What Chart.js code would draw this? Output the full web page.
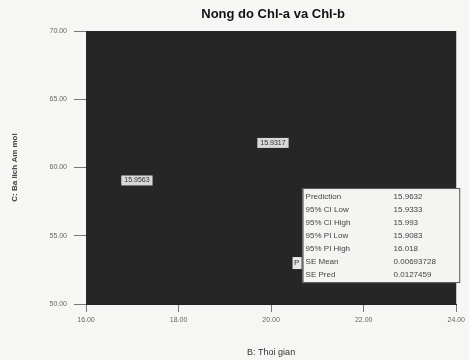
<!DOCTYPE html>
<html>
<head>
<meta charset="utf-8">
<script src="https://cdn.jsdelivr.net/npm/chart.js@4.4.0/dist/chart.umd.min.js"></script>
<style>
  html, body { margin: 0; padding: 0; background: #f6f6f4; }
  #wrap { width: 469px; height: 360px; }
</style>
</head>
<body>
<div id="wrap"><canvas id="contour"></canvas></div>
<script>
// contour labels
const labelX = [17.1, 20.04];
const labelY = [59.05, 61.8];
const labelText = ["15.9563", "15.9317"];

// flagged point + its prediction box
const flagX = [20.55];
const flagY = [53.0];
const infoLabels = ["Prediction", "95% CI Low", "95% CI High", "95% PI Low", "95% PI High", "SE Mean", "SE Pred"];
const infoValues = ["15.9632", "15.9333", "15.993", "15.9083", "16.018", "0.00693728", "0.0127459"];

const xTicks = [16, 18, 20, 22, 24];
const yTicks = [50, 55, 60, 65, 70];
const chartTitle = "Nong do Chl-a va Chl-b";

// dark background of the plot area + title centred over it
const plotBg = {
  id: "plotBg",
  beforeDatasetsDraw(chart) {
    const { ctx, chartArea: a } = chart;
    ctx.save();
    ctx.fillStyle = "#262626";
    ctx.fillRect(a.left, a.top, a.right - a.left, a.bottom - a.top);
    ctx.fillStyle = "#111";
    ctx.font = "bold 13px 'Liberation Sans', Arial, sans-serif";
    ctx.textAlign = "center";
    ctx.textBaseline = "middle";
    ctx.fillText(chartTitle, (a.left + a.right) / 2 + 2, 14);
    ctx.restore();
  },
};

// small boxed labels and the flag info box
const annotations = {
  id: "annotations",
  afterDatasetsDraw(chart) {
    const ctx = chart.ctx;
    const xs = chart.scales.x, ys = chart.scales.y;
    ctx.save();
    ctx.font = "7px 'Liberation Sans', Arial, sans-serif";
    ctx.textBaseline = "middle";
    labelText.forEach((t, i) => {
      const px = xs.getPixelForValue(labelX[i]);
      const py = ys.getPixelForValue(labelY[i]);
      const w = ctx.measureText(t).width + 6;
      ctx.fillStyle = "#d8d8d8";
      ctx.fillRect(px - w / 2, py - 5, w, 10);
      ctx.fillStyle = "#333";
      ctx.textAlign = "center";
      ctx.fillText(t, px, py);
    });

    // flag
    const fx = xs.getPixelForValue(flagX[0]);
    const fy = ys.getPixelForValue(flagY[0]);
    ctx.fillStyle = "#e8e8e8";
    ctx.fillRect(fx - 4, fy - 6, 9, 12);
    ctx.fillStyle = "#333";
    ctx.textAlign = "center";
    ctx.font = "8px 'Liberation Sans', Arial, sans-serif";
    ctx.fillText("P", fx, fy);

    // info box
    const bx = fx + 6, rowH = 13;
    const bh = rowH * infoLabels.length + 4;
    const by = fy + 20 - bh;
    const bw = xs.right - bx + 4;
    ctx.fillStyle = "#f4f4f2";
    ctx.fillRect(bx, by, bw, bh);
    ctx.strokeStyle = "#555";
    ctx.lineWidth = 1;
    ctx.strokeRect(bx + 0.5, by + 0.5, bw - 1, bh - 1);
    ctx.font = "8px 'Liberation Sans', Arial, sans-serif";
    ctx.textAlign = "left";
    ctx.fillStyle = "#444";
    infoLabels.forEach((t, i) => {
      const ty = by + 2 + rowH * i + rowH / 2;
      ctx.fillText(t, bx + 3, ty);
      ctx.fillText(infoValues[i], bx + 91, ty);
    });
    ctx.restore();
  },
};

const config = {
  type: "scatter",
  data: {
    datasets: [
      {
        data: labelX.map((x, i) => ({ x: x, y: labelY[i] })),
        pointRadius: 0,
      },
      {
        data: flagX.map((x, i) => ({ x: x, y: flagY[i] })),
        pointRadius: 0,
      },
    ],
  },
  plugins: [plotBg, annotations],
  options: {
    responsive: true,
    maintainAspectRatio: false,
    animation: false,
    layout: { padding: { right: 11, bottom: 0, left: 0, top: 31 } },
    plugins: {
      legend: { display: false },
      tooltip: { enabled: false },
      title: { display: false },
    },
    scales: {
      x: {
        type: "linear",
        min: 16,
        max: 24,
        afterBuildTicks: (s) => { s.ticks = xTicks.map((v) => ({ value: v })); },
        afterFit: (s) => { s.height = 56; },
        ticks: {
          callback: (v) => Number(v).toFixed(2),
          color: "#666",
          font: { size: 7, family: "'Liberation Sans', Arial, sans-serif" },
          maxRotation: 0,
          padding: 4,
        },
        grid: { display: true, drawOnChartArea: false, drawTicks: true, tickLength: 8, color: "#777" },
        border: { display: true, color: "#222" },
        title: {
          display: true,
          text: "B: Thoi gian",
          color: "#333",
          font: { size: 9, family: "'Liberation Sans', Arial, sans-serif" },
          padding: { top: 0, bottom: 2 },
        },
      },
      y: {
        type: "linear",
        min: 50,
        max: 70,
        afterBuildTicks: (s) => { s.ticks = yTicks.map((v) => ({ value: v })); },
        afterFit: (s) => { s.width = 86; },
        ticks: {
          callback: (v) => Number(v).toFixed(2),
          color: "#666",
          font: { size: 7, family: "'Liberation Sans', Arial, sans-serif" },
          padding: 7,
        },
        grid: { display: true, drawOnChartArea: false, drawTicks: true, tickLength: 12, color: "#777" },
        border: { display: true, color: "#222" },
        title: {
          display: true,
          text: "C: Ba lich Am mol",
          color: "#444",
          font: { size: 8, weight: "bold", family: "'Liberation Sans', Arial, sans-serif" },
          padding: { top: 10, bottom: 0 },
        },
      },
    },
  },
};

var chart = new Chart(document.getElementById("contour"), config);
</script>
</body>
</html>
